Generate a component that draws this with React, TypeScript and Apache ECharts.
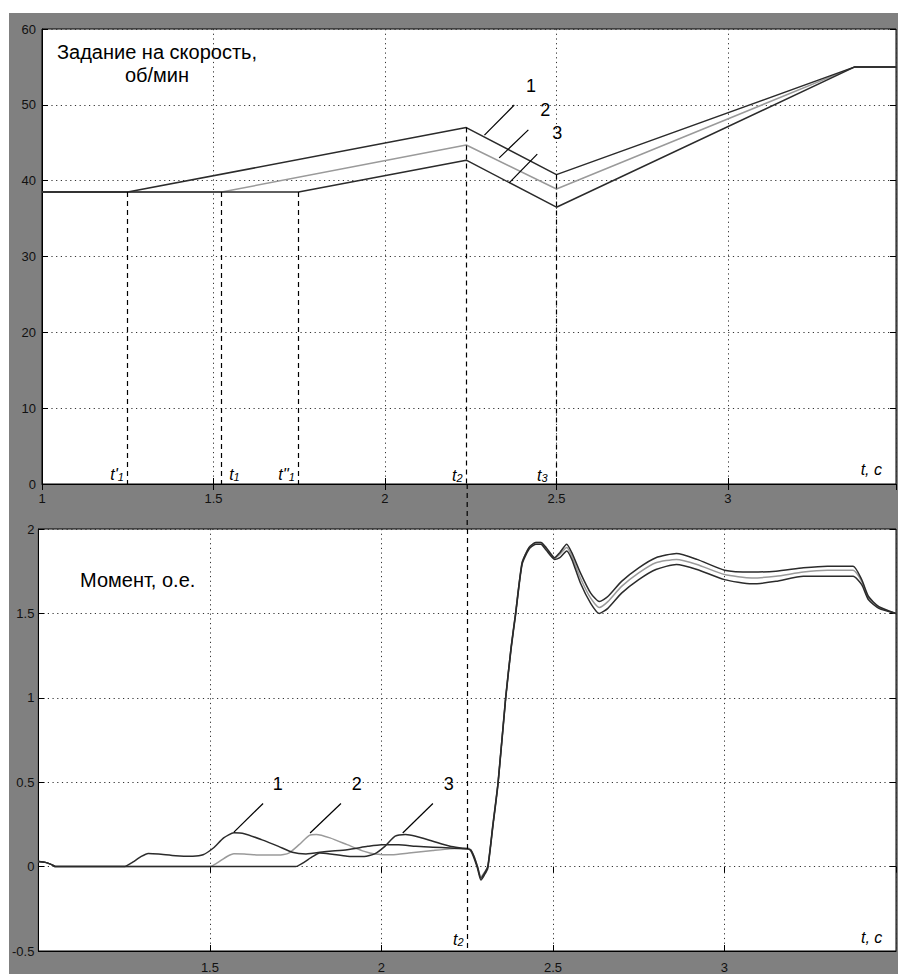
import React, { useEffect, useRef } from "react";
import * as echarts from "echarts";

// ---- Data ----
// Upper panel: speed reference, rpm  [t, value]
const speed1 = [[1, 38.5], [1.25, 38.5], [2.237, 47], [2.5, 40.8], [3.37, 55], [3.49, 55]];
const speed2 = [[1, 38.5], [1.524, 38.5], [2.237, 44.7], [2.5, 38.9], [3.37, 55], [3.49, 55]];
const speed3 = [[1, 38.5], [1.748, 38.5], [2.237, 42.7], [2.5, 36.5], [3.37, 55], [3.49, 55]];

// Lower panel: torque, p.u.  [t, value]
const torque1 = [[1.0, 0.03], [1.02, 0.025], [1.04, 0.01], [1.05, 0], [1.25, 0], [1.27, 0.02], [1.3, 0.06], [1.32, 0.078], [1.35, 0.075], [1.4, 0.065], [1.45, 0.062], [1.48, 0.07], [1.51, 0.11], [1.54, 0.17], [1.57, 0.2], [1.6, 0.195], [1.65, 0.16], [1.7, 0.12], [1.74, 0.085], [1.78, 0.075], [1.84, 0.09], [1.9, 0.1], [1.96, 0.12], [2.0, 0.13], [2.05, 0.13], [2.1, 0.12], [2.15, 0.115], [2.2, 0.11], [2.25, 0.105], [2.26, 0.1], [2.27, 0.06], [2.28, 0.0], [2.29, -0.07], [2.3, -0.04], [2.31, 0.0], [2.325, 0.25], [2.34, 0.5], [2.362, 1.0], [2.378, 1.3], [2.391, 1.5], [2.41, 1.8], [2.43, 1.89], [2.45, 1.92], [2.465, 1.92], [2.48, 1.89], [2.505, 1.83], [2.52, 1.86], [2.54, 1.91], [2.555, 1.86], [2.58, 1.74], [2.61, 1.62], [2.635, 1.57], [2.66, 1.6], [2.7, 1.69], [2.75, 1.77], [2.8, 1.83], [2.86, 1.855], [2.92, 1.82], [3.0, 1.756], [3.08, 1.745], [3.15, 1.75], [3.23, 1.77], [3.3, 1.78], [3.375, 1.78], [3.4, 1.7], [3.42, 1.6], [3.45, 1.54], [3.5, 1.5]];
const torque2 = [[1.0, 0.03], [1.02, 0.025], [1.04, 0.01], [1.05, 0], [1.5, 0], [1.52, 0.02], [1.55, 0.06], [1.57, 0.076], [1.6, 0.075], [1.65, 0.068], [1.7, 0.068], [1.73, 0.08], [1.76, 0.13], [1.79, 0.185], [1.81, 0.19], [1.85, 0.17], [1.9, 0.13], [1.95, 0.09], [1.98, 0.075], [2.03, 0.07], [2.08, 0.08], [2.15, 0.095], [2.2, 0.105], [2.25, 0.11], [2.26, 0.1], [2.27, 0.06], [2.28, 0.0], [2.29, -0.06], [2.3, -0.035], [2.31, 0.0], [2.325, 0.25], [2.34, 0.5], [2.362, 1.0], [2.378, 1.3], [2.391, 1.5], [2.41, 1.8], [2.43, 1.89], [2.45, 1.92], [2.465, 1.92], [2.48, 1.885], [2.505, 1.825], [2.52, 1.85], [2.54, 1.89], [2.555, 1.84], [2.58, 1.71], [2.61, 1.59], [2.635, 1.535], [2.66, 1.57], [2.7, 1.66], [2.75, 1.74], [2.8, 1.8], [2.86, 1.82], [2.92, 1.79], [3.0, 1.73], [3.08, 1.71], [3.15, 1.72], [3.23, 1.745], [3.3, 1.755], [3.375, 1.755], [3.4, 1.69], [3.42, 1.59], [3.45, 1.535], [3.5, 1.5]];
const torque3 = [[1.0, 0.03], [1.02, 0.025], [1.04, 0.01], [1.05, 0], [1.75, 0], [1.77, 0.02], [1.8, 0.06], [1.82, 0.08], [1.85, 0.075], [1.9, 0.062], [1.95, 0.06], [1.98, 0.075], [2.01, 0.12], [2.04, 0.18], [2.07, 0.19], [2.1, 0.18], [2.15, 0.15], [2.2, 0.12], [2.25, 0.105], [2.26, 0.095], [2.27, 0.05], [2.28, -0.01], [2.29, -0.08], [2.3, -0.05], [2.31, -0.01], [2.325, 0.24], [2.34, 0.49], [2.362, 0.99], [2.378, 1.29], [2.391, 1.49], [2.41, 1.79], [2.43, 1.88], [2.45, 1.91], [2.465, 1.91], [2.48, 1.875], [2.505, 1.82], [2.52, 1.83], [2.54, 1.87], [2.555, 1.82], [2.58, 1.68], [2.61, 1.56], [2.635, 1.5], [2.66, 1.53], [2.7, 1.62], [2.75, 1.7], [2.8, 1.76], [2.86, 1.79], [2.92, 1.76], [3.0, 1.7], [3.08, 1.675], [3.15, 1.69], [3.23, 1.72], [3.3, 1.72], [3.375, 1.72], [3.4, 1.67], [3.42, 1.58], [3.45, 1.53], [3.5, 1.5]];

// Switching instants (upper panel) [t, curve value at that instant]
const topInstants = [[1.25, 38.5], [1.524, 38.5], [1.748, 38.5], [2.237, 47], [2.5, 40.8]];
const bottomT2 = 2.25;

// Annotation anchors (data coordinates)
const topLeaders = [[[2.377, 49.98], [2.29, 46.0]], [[2.418, 46.7], [2.333, 43.0]], [[2.444, 43.5], [2.362, 39.7]]];
const topNumbers = [[2.426, 52.5, "1"], [2.467, 49.3, "2"], [2.502, 46.3, "3"]];
const bottomLeaders = [[[1.655, 0.374], [1.57, 0.204]], [[1.882, 0.374], [1.792, 0.199]], [[2.15, 0.374], [2.062, 0.199]]];
const bottomNumbers = [[1.698, 0.49, "1"], [1.928, 0.49, "2"], [2.196, 0.49, "3"]];
const topTimeLabels = [[1.219, 1.58, "{i|t'}{s|1}"], [1.561, 1.58, "{i|t}{s|1}"], [1.713, 1.58, "{i|t''}{s|1}"], [2.211, 1.45, "{i|t}{s|2}"], [2.459, 1.45, "{i|t}{s|3}"], [3.418, 2.24, "{i|t, c}"]];
const bottomTimeLabels = [[2.224, -0.42, "{i|t}{s|2}"], [3.429, -0.41, "{i|t, c}"]];

const FONT = "Liberation Sans, Arial, sans-serif";
const DARK = "#2b2b2b";
const LIGHT = "#9a9a9a";

const richT = {
  i: { fontSize: 16, fontStyle: "italic", fontFamily: FONT, color: "#000", lineHeight: 20, verticalAlign: "bottom" },
  s: { fontSize: 11, fontStyle: "italic", fontFamily: FONT, color: "#000", lineHeight: 12, verticalAlign: "bottom" },
};

const dashStyle = { type: [5, 4], color: "#000", width: 1.2 };
const gridLine = { show: true, lineStyle: { type: [1.2, 3.5], color: "#333", width: 1 } };

function mainX(grid: number, max: number, showMin: boolean, margin: number) {
  return {
    type: "value", gridIndex: grid, min: 1, max, interval: 0.5, position: "bottom",
    axisLine: { show: true, onZero: false, lineStyle: { color: "#000", width: 1 } },
    axisTick: { show: true, inside: true, length: 6, lineStyle: { color: "#000" } },
    axisLabel: { show: true, showMinLabel: showMin, showMaxLabel: false, color: "#111", fontSize: 13, fontFamily: FONT, margin },
    splitLine: gridLine,
  };
}
function mirrorX(grid: number, max: number) {
  return {
    type: "value", gridIndex: grid, min: 1, max, interval: 0.5, position: "top",
    axisLine: { show: false }, axisTick: { show: true, inside: true, length: 6, lineStyle: { color: "#000" } },
    axisLabel: { show: false }, splitLine: { show: false },
  };
}
function mainY(grid: number, min: number, max: number, interval: number, margin: number) {
  return {
    type: "value", gridIndex: grid, min, max, interval, position: "left",
    axisLine: { show: true, onZero: false, lineStyle: { color: "#000", width: 1 } },
    axisTick: { show: true, inside: true, length: 6, lineStyle: { color: "#000" } },
    axisLabel: { show: true, color: "#111", fontSize: 13, fontFamily: FONT, margin },
    splitLine: gridLine,
  };
}
function mirrorY(grid: number, min: number, max: number, interval: number) {
  return {
    type: "value", gridIndex: grid, min, max, interval, position: "right",
    axisLine: { show: false }, axisTick: { show: true, inside: true, length: 6, lineStyle: { color: "#000" } },
    axisLabel: { show: false }, splitLine: { show: false },
  };
}

function numberPoints(list: any[]) {
  return list.map((p) => ({ coord: [p[0], p[1]], label: { formatter: p[2] } }));
}
function leaderLines(list: any[]) {
  return list.map((l) => [{ coord: l[0] }, { coord: l[1] }]);
}

export default function App() {
  const ref = useRef<HTMLDivElement>(null);
  useEffect(() => {
    if (!ref.current) return;
    const chart = echarts.init(ref.current, null, { renderer: "svg" });
    const labelPoint = {
      symbol: "circle", symbolSize: 0, silent: true,
      itemStyle: { color: "rgba(0,0,0,0)" },
      label: { show: true, position: "inside", color: "#000", fontSize: 18, fontFamily: FONT, rich: richT },
    };
    const option: any = {
      animation: false,
      backgroundColor: "#808080",
      grid: [
        { left: 33, top: 16, width: 854, height: 455, show: true, backgroundColor: "#ffffff", borderColor: "#000", borderWidth: 1 },
        { left: 28, top: 516, width: 859, height: 428, show: true, backgroundColor: "#ffffff", borderColor: "#000", borderWidth: 1 },
      ],
      xAxis: [mainX(0, 3.49, true, 8), mirrorX(0, 3.49), mainX(1, 3.5, false, 10), mirrorX(1, 3.5)],
      yAxis: [mainY(0, 0, 60, 10, 6), mirrorY(0, 0, 60, 10), mainY(1, -0.5, 2, 0.5, 4), mirrorY(1, -0.5, 2, 0.5)],
      graphic: [
        { type: "text", x: 148, y: 39, style: { text: "Задание на скорость,", fontSize: 20, fontFamily: FONT, fill: "#000", textAlign: "center", textVerticalAlign: "middle" } },
        { type: "text", x: 148, y: 62, style: { text: "об/мин", fontSize: 20, fontFamily: FONT, fill: "#000", textAlign: "center", textVerticalAlign: "middle" } },
        { type: "text", x: 71, y: 567, style: { text: "Момент, о.е.", fontSize: 20, fontFamily: FONT, fill: "#000", textAlign: "left", textVerticalAlign: "middle" } },
      ],
      series: [
        {
          type: "line", xAxisIndex: 0, yAxisIndex: 0, data: speed2, showSymbol: false, z: 3,
          lineStyle: { color: LIGHT, width: 1.5 },
          markLine: { silent: true, symbol: ["none", "none"], label: { show: false }, lineStyle: { type: "solid", color: "#000", width: 1.2 }, data: leaderLines(topLeaders) },
        },
        {
          type: "line", xAxisIndex: 0, yAxisIndex: 0, data: speed1, showSymbol: false, z: 4,
          lineStyle: { color: DARK, width: 1.5 },
          markLine: {
            silent: true, symbol: ["none", "none"], label: { show: false }, lineStyle: dashStyle,
            data: topInstants.map((p) => [{ coord: [p[0], p[1]] }, { coord: [p[0], 0] }]),
          },
        },
        {
          type: "line", xAxisIndex: 0, yAxisIndex: 0, data: speed3, showSymbol: false, z: 4,
          lineStyle: { color: DARK, width: 1.5 },
          markPoint: { ...labelPoint, data: [...numberPoints(topNumbers), ...numberPoints(topTimeLabels)] },
        },
        {
          type: "line", xAxisIndex: 2, yAxisIndex: 2, data: torque2, showSymbol: false, z: 3, smooth: 0.2,
          lineStyle: { color: LIGHT, width: 1.5 },
          markLine: { silent: true, symbol: ["none", "none"], label: { show: false }, lineStyle: { type: "solid", color: "#000", width: 1.2 }, data: leaderLines(bottomLeaders) },
        },
        {
          type: "line", xAxisIndex: 2, yAxisIndex: 2, data: torque1, showSymbol: false, z: 4, smooth: 0.2,
          lineStyle: { color: DARK, width: 1.5 },
          markLine: {
            silent: true, symbol: ["none", "none"], label: { show: false }, lineStyle: dashStyle,
            data: [[{ coord: [bottomT2, 2] }, { coord: [bottomT2, -0.5] }]],
          },
        },
        {
          type: "line", xAxisIndex: 2, yAxisIndex: 2, data: torque3, showSymbol: false, z: 4, smooth: 0.2,
          lineStyle: { color: DARK, width: 1.5 },
          markPoint: { ...labelPoint, data: [...numberPoints(bottomNumbers), ...numberPoints(bottomTimeLabels)] },
        },
      ],
    };
    chart.setOption(option);
    // dashed t2 line continuing across the gap between the panels
    const gx = chart.convertToPixel({ xAxisIndex: 2 }, bottomT2) as number;
    const gy1 = chart.convertToPixel({ yAxisIndex: 0 }, 0) as number;
    const gy2 = chart.convertToPixel({ yAxisIndex: 2 }, 2) as number;
    chart.setOption({
      graphic: [
        ...option.graphic,
        { type: "line", shape: { x1: gx, y1: gy1, x2: gx, y2: gy2 }, style: { stroke: "#000", lineWidth: 1.2, lineDash: [5, 4] }, z: 10 },
      ],
    });
    return () => chart.dispose();
  }, []);
  return (
    <div style={{ position: "absolute", left: 0, top: 0, width: 898, height: 974, background: "#fff", overflow: "hidden" }}>
      <div ref={ref} style={{ position: "absolute", left: 9, top: 13, width: 889, height: 961 }} />
    </div>
  );
}
